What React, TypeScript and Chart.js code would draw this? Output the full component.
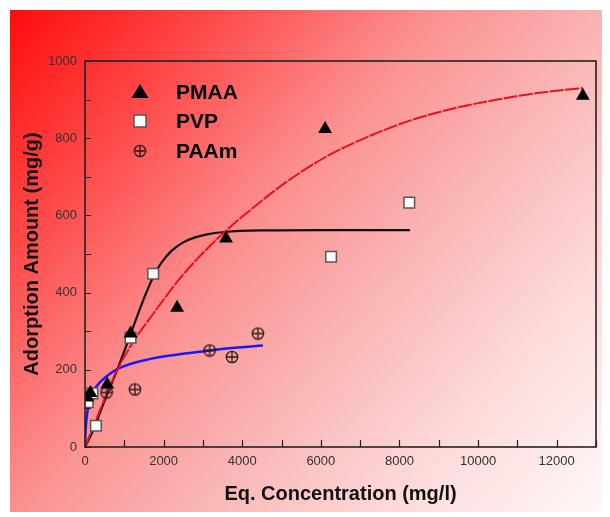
import { useEffect, useRef } from "react";
import { Chart, registerables } from "chart.js";
Chart.register(...registerables);

// Measured data (Eq. Concentration mg/l, Adsorption amount mg/g)
const pmaaX = [60, 140, 567, 1159, 2343, 3587, 6108, 12665];
const pmaaY = [128, 140, 162, 294, 361, 540, 824, 910];

const pvpX = [68, 186, 279, 1159, 1734, 6260, 8249];
const pvpY = [116, 139, 55, 283, 449, 493, 633];

const paamX = [550, 1269, 3172, 3739, 4399];
const paamY = [141, 149, 250, 233, 294];

// Fitted curves
const pmaaFitX = [0, 400, 800, 1200, 1700, 2500, 3550, 4500, 5100, 6100, 7000, 8250, 9500, 10500, 11500, 12665];
const pmaaFitY = [0, 100, 195, 268, 340, 447, 557, 638, 685, 750, 795, 845, 880, 900, 917, 930];

const pvpFitX = [0, 170, 500, 850, 1180, 1500, 1730, 1950, 2200, 2500, 2800, 3100, 3550, 4500, 6000, 8270];
const pvpFitY = [0, 35, 120, 208, 298, 385, 440, 478, 508, 530, 543, 551, 557, 561, 562, 562];

const paamFitX = [0, 15, 42, 100, 169, 300, 423, 846, 1692, 2538, 3172, 3807, 4526];
const paamFitY = [0, 40, 77, 110, 138, 158, 172, 203, 229, 242, 250, 257, 263];

const xTickValues = [0, 2000, 4000, 6000, 8000, 10000, 12000];
const yTickValues = [0, 200, 400, 600, 800, 1000];

const legendLabels = ["PMAA", "PVP", "PAAm"];
const xTitle = "Eq. Concentration (mg/l)";
const yTitle = "Adorption Amount (mg/g)";

function toPts(xs: number[], ys: number[]) {
  return xs.map((x, i) => ({ x, y: ys[i] }));
}

function makeOplus(size: number, lw: number) {
  const c = document.createElement("canvas");
  c.width = size;
  c.height = size;
  const g = c.getContext("2d")!;
  const m = size / 2;
  const r = size / 2 - lw;
  g.strokeStyle = "#2a1a1a";
  g.lineWidth = lw;
  g.beginPath();
  g.arc(m, m, r, 0, Math.PI * 2);
  g.moveTo(m - r, m);
  g.lineTo(m + r, m);
  g.moveTo(m, m - r);
  g.lineTo(m, m + r);
  g.stroke();
  return c;
}

const bgPlugin = {
  id: "bgGradient",
  beforeDraw(chart: any) {
    const { ctx, width, height } = chart;
    const g = ctx.createLinearGradient(0, 0, width, height);
    g.addColorStop(0, "rgb(255,12,12)");
    g.addColorStop(0.2, "rgb(255,72,72)");
    g.addColorStop(0.42, "rgb(251,145,145)");
    g.addColorStop(0.6, "rgb(250,182,182)");
    g.addColorStop(0.8, "rgb(253,220,220)");
    g.addColorStop(1, "rgb(255,248,248)");
    ctx.save();
    ctx.fillStyle = g;
    ctx.fillRect(0, 0, width, height);
    ctx.restore();
  },
};

const framePlugin = {
  id: "frameTicks",
  afterDraw(chart: any) {
    const { ctx, chartArea: a, scales } = chart;
    const xs = scales.x;
    const ys = scales.y;
    ctx.save();
    ctx.strokeStyle = "#222";
    ctx.lineWidth = 1.2;
    ctx.beginPath();
    for (let v = 0; v <= 13000; v += 1000) {
      const px = Math.round(xs.getPixelForValue(v)) + 0.5;
      ctx.moveTo(px, a.bottom);
      ctx.lineTo(px, a.bottom - 7);
    }
    for (let v = 0; v <= 1000; v += 100) {
      const py = Math.round(ys.getPixelForValue(v)) + 0.5;
      ctx.moveTo(a.left, py);
      ctx.lineTo(a.left + 6, py);
    }
    ctx.stroke();
    ctx.lineWidth = 1.6;
    ctx.strokeRect(a.left, a.top, a.right - a.left, a.bottom - a.top);
    ctx.restore();

    // legend
    const lx = 130;
    const rows = [82, 111, 141];
    const tx = 166;
    ctx.save();
    ctx.fillStyle = "#000";
    ctx.beginPath();
    ctx.moveTo(lx, rows[0] - 8);
    ctx.lineTo(lx + 8.5, rows[0] + 6);
    ctx.lineTo(lx - 8.5, rows[0] + 6);
    ctx.closePath();
    ctx.fill();
    ctx.fillStyle = "#fff";
    ctx.strokeStyle = "#555";
    ctx.lineWidth = 1.5;
    ctx.fillRect(lx - 6, rows[1] - 6, 12, 12);
    ctx.strokeRect(lx - 6, rows[1] - 6, 12, 12);
    const op = makeOplus(14, 1.3);
    ctx.drawImage(op, lx - 7, rows[2] - 7);
    ctx.fillStyle = "#000";
    ctx.font = "bold 21px 'Liberation Sans', Arial, sans-serif";
    ctx.textBaseline = "middle";
    ctx.textAlign = "left";
    legendLabels.forEach((t, i) => ctx.fillText(t, tx, rows[i] + 1));
    ctx.restore();
  },
};

export default function App() {
  const ref = useRef<HTMLCanvasElement | null>(null);
  useEffect(() => {
    if (!ref.current) return;
    const oplus = makeOplus(14, 1.3);
    const chart = new Chart(ref.current, {
      type: "scatter",
      data: {
        datasets: [
          {
            label: "PMAA",
            data: toPts(pmaaX, pmaaY),
            pointStyle: "triangle",
            pointRadius: 8,
            backgroundColor: "#000",
            borderColor: "#000",
            borderWidth: 0,
            order: 0,
          },
          {
            label: "PVP",
            data: toPts(pvpX, pvpY),
            pointStyle: "rect",
            pointRadius: 7.5,
            backgroundColor: "#fff",
            borderColor: "#555",
            borderWidth: 1.5,
            order: 0,
          },
          {
            label: "PAAm",
            data: toPts(paamX, paamY),
            pointStyle: oplus as any,
            pointRadius: 6,
            backgroundColor: "transparent",
            borderColor: "#333",
            order: 0,
          },
          {
            label: "PMAA fit",
            data: toPts(pmaaFitX, pmaaFitY),
            showLine: true,
            pointRadius: 0,
            borderColor: "#e8101a",
            borderWidth: 2,
            borderDash: [14, 1.5],
            cubicInterpolationMode: "monotone",
            order: 1,
          },
          {
            label: "PVP fit",
            data: toPts(pvpFitX, pvpFitY),
            showLine: true,
            pointRadius: 0,
            borderColor: "#111",
            borderWidth: 2.2,
            cubicInterpolationMode: "monotone",
            order: 1,
          },
          {
            label: "PAAm fit",
            data: toPts(paamFitX, paamFitY),
            showLine: true,
            pointRadius: 0,
            borderColor: "#1a1aee",
            borderWidth: 2.5,
            cubicInterpolationMode: "monotone",
            order: 1,
          },
        ],
      },
      options: {
        animation: false,
        responsive: true,
        maintainAspectRatio: false,
        layout: { padding: { left: 0, right: 7, top: 51, bottom: 0 } },
        plugins: {
          legend: { display: false },
          tooltip: { enabled: false },
        },
        scales: {
          x: {
            type: "linear",
            min: 0,
            max: 13000,
            grid: { display: false, drawTicks: false },
            border: { display: false },
            afterBuildTicks(scale: any) {
              scale.ticks = xTickValues.map((v) => ({ value: v }));
            },
            ticks: {
              autoSkip: false,
              maxRotation: 0,
              padding: 7,
              color: "#333",
              font: { size: 13, family: "'Liberation Sans', Arial, sans-serif" },
              callback: (v: any) => String(v),
            },
            title: {
              display: true,
              text: xTitle,
              color: "#111",
              font: { size: 20, weight: "bold", family: "'Liberation Sans', Arial, sans-serif" },
              padding: { top: 0, bottom: 6 },
            },
            afterFit(scale: any) {
              scale.height = 65;
            },
          },
          y: {
            type: "linear",
            min: 0,
            max: 1000,
            grid: { display: false, drawTicks: false },
            border: { display: false },
            afterBuildTicks(scale: any) {
              scale.ticks = yTickValues.map((v) => ({ value: v }));
            },
            ticks: {
              autoSkip: false,
              padding: 8,
              color: "#333",
              font: { size: 13, family: "'Liberation Sans', Arial, sans-serif" },
              callback: (v: any) => String(v),
            },
            title: {
              display: true,
              text: yTitle,
              color: "#111",
              font: { size: 20, weight: "bold", family: "'Liberation Sans', Arial, sans-serif" },
              padding: { top: 10, bottom: 0 },
            },
            afterFit(scale: any) {
              scale.width = 75;
            },
          },
        },
      },
      plugins: [bgPlugin, framePlugin],
    });
    return () => chart.destroy();
  }, []);

  return (
    <div style={{ paddingTop: 2, paddingLeft: 2 }}>
      <div style={{ position: "relative", width: 595, height: 502 }}>
        <canvas ref={ref} />
      </div>
    </div>
  );
}
